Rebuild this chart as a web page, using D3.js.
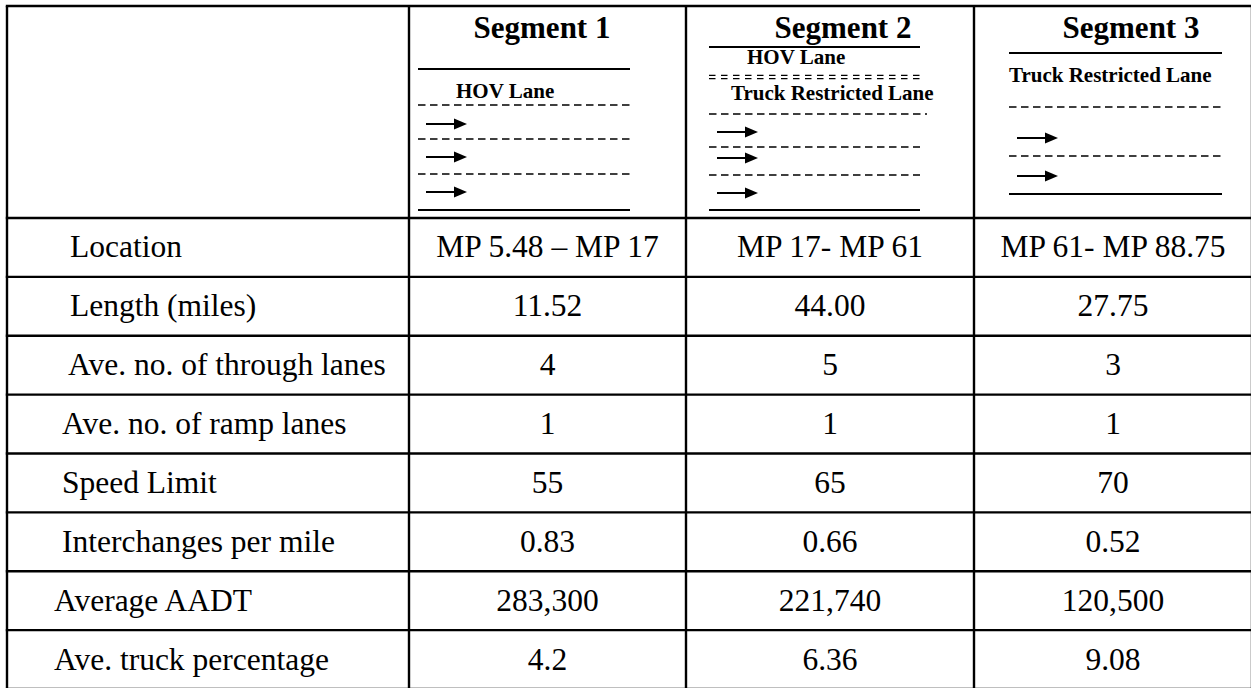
<!DOCTYPE html>
<html><head><meta charset="utf-8">
<script src="https://cdn.jsdelivr.net/npm/d3@7/dist/d3.min.js"></script>
<style>html,body{margin:0;padding:0;background:#fff;}svg{display:block;}</style>
</head><body>
<svg id="chart" width="1251" height="688"></svg>
<script>
// ---------- DATA ----------
const segments = ["Segment 1", "Segment 2", "Segment 3"];
const rowLabels = ["Location", "Length (miles)", "Ave. no. of through lanes", "Ave. no. of ramp lanes",
  "Speed Limit", "Interchanges per mile", "Average AADT", "Ave. truck percentage"];
const seg1Values = ["MP 5.48 \u2013 MP 17", "11.52", "4", "1", "55", "0.83", "283,300", "4.2"];
const seg2Values = ["MP 17- MP 61", "44.00", "5", "1", "65", "0.66", "221,740", "6.36"];
const seg3Values = ["MP 61- MP 88.75", "27.75", "3", "1", "70", "0.52", "120,500", "9.08"];
// lane diagram sequences (top to bottom)
const seg1Lanes = ["solid", "HOV Lane", "dashed", "arrow", "dashed", "arrow", "dashed", "arrow", "solid"];
const seg2Lanes = ["solid", "HOV Lane", "double", "Truck Restricted Lane", "dashed", "arrow", "dashed", "arrow", "dashed", "arrow", "solid"];
const seg3Lanes = ["solid", "Truck Restricted Lane", "dashed", "arrow", "dashed", "arrow", "solid"];

// ---------- LAYOUT (positions / styles) ----------
const SX = 1.0;
const colEdges = [7, 409, 686, 974, 1252];
const tableTop = 6, headerBottom = 218, tableBottom = 689;
const labelIndent = [63, 63, 61, 55, 55, 55, 47, 47];
const diag = [
  { x0: 418, x1: 630, titleX: 542, arrowX: 426, labelX: [456],
    ys: [69, 98, 105, 124, 139, 157, 174, 192, 210] },
  { x0: 709, x1: 920, titleX: 843, arrowX: 717, labelX: [747, 731],
    ys: [47, 64, 77, 100, 114, 132, 147, 158, 175, 193, 210] },
  { x0: 1009, x1: 1222, titleX: 1131, arrowX: 1017, labelX: [1009],
    ys: [53, 82, 107, 138, 156, 176, 194] }
];
const laneSets = [seg1Lanes, seg2Lanes, seg3Lanes];
const valueSets = [seg1Values, seg2Values, seg3Values];

const svg = d3.select("#chart");
const serif = "'Liberation Serif','Times New Roman',serif";

const y = d3.scaleBand().domain(rowLabels).range([headerBottom, tableBottom]);
const colScale = d3.scaleOrdinal().domain(["label"].concat(segments)).range(colEdges.slice(0, 4));
const colCenter = i => (colEdges[i] + colEdges[i + 1]) / 2;

function stretchedText(g, x, yy, txt, size, weight, anchor) {
  return g.append("text")
    .attr("transform", `translate(${x},${yy}) scale(${SX},1)`)
    .attr("text-anchor", anchor || "start")
    .style("font-family", serif)
    .style("font-size", size + "px")
    .style("font-weight", weight || "normal")
    .attr("fill", "#000")
    .text(txt);
}

// ---------- GRID ----------
const grid = svg.append("g").attr("stroke", "#000").attr("stroke-width", 2.4);
const hLines = [tableTop, headerBottom].concat(rowLabels.slice(1).map(r => y(r)), [tableBottom]);
grid.selectAll("line.h").data(hLines).join("line").attr("class", "h")
  .attr("x1", colEdges[0] - 1.2).attr("x2", colEdges[4] + 1.2)
  .attr("y1", d => d).attr("y2", d => d);
grid.selectAll("line.v").data(colEdges).join("line").attr("class", "v")
  .attr("x1", d => d).attr("x2", d => d)
  .attr("y1", tableTop).attr("y2", tableBottom);

// ---------- BODY TEXT ----------
const body = svg.append("g");
const BODY_SIZE = 31.5;
rowLabels.forEach((lab, i) => {
  const cy = y(lab) + y.bandwidth() / 2 + 10;
  stretchedText(body, colScale("label") + labelIndent[i], cy, lab, BODY_SIZE);
  valueSets.forEach((vals, s) => {
    stretchedText(body, colCenter(s + 1), cy, vals[i], BODY_SIZE, "normal", "middle");
  });
});

// ---------- HEADER: titles + lane diagrams ----------
const head = svg.append("g");
segments.forEach((seg, s) => {
  const L = diag[s];
  stretchedText(head, L.titleX, 38, seg, 31, "bold", "middle");
  let labelCount = 0;
  laneSets[s].forEach((item, k) => {
    const yy = L.ys[k];
    if (item === "solid") {
      head.append("line").attr("x1", L.x0).attr("x2", L.x1).attr("y1", yy).attr("y2", yy)
        .attr("stroke", "#000").attr("stroke-width", 2);
    } else if (item === "dashed") {
      const xEnd = (s === 1 && k === 4) ? L.x1 + 7 : L.x1;
      head.append("line").attr("x1", L.x0).attr("x2", xEnd).attr("y1", yy).attr("y2", yy)
        .attr("stroke", "#000").attr("stroke-width", 1.4).attr("stroke-dasharray", "7.5,4.5");
    } else if (item === "double") {
      [-1.6, 1.6].forEach(off => {
        head.append("line").attr("x1", L.x0).attr("x2", L.x1).attr("y1", yy + off).attr("y2", yy + off)
          .attr("stroke", "#000").attr("stroke-width", 1.2).attr("stroke-dasharray", "6.5,5.5");
      });
    } else if (item === "arrow") {
      const ax = L.arrowX;
      head.append("line").attr("x1", ax).attr("x2", ax + 29).attr("y1", yy).attr("y2", yy)
        .attr("stroke", "#000").attr("stroke-width", 2);
      head.append("path").attr("d", `M${ax + 28},${yy - 5.5}L${ax + 41},${yy}L${ax + 28},${yy + 5.5}Z`)
        .attr("fill", "#000");
    } else {
      stretchedText(head, L.labelX[labelCount], yy, item, 21, "bold");
      labelCount++;
    }
  });
});
</script>
</body></html>
